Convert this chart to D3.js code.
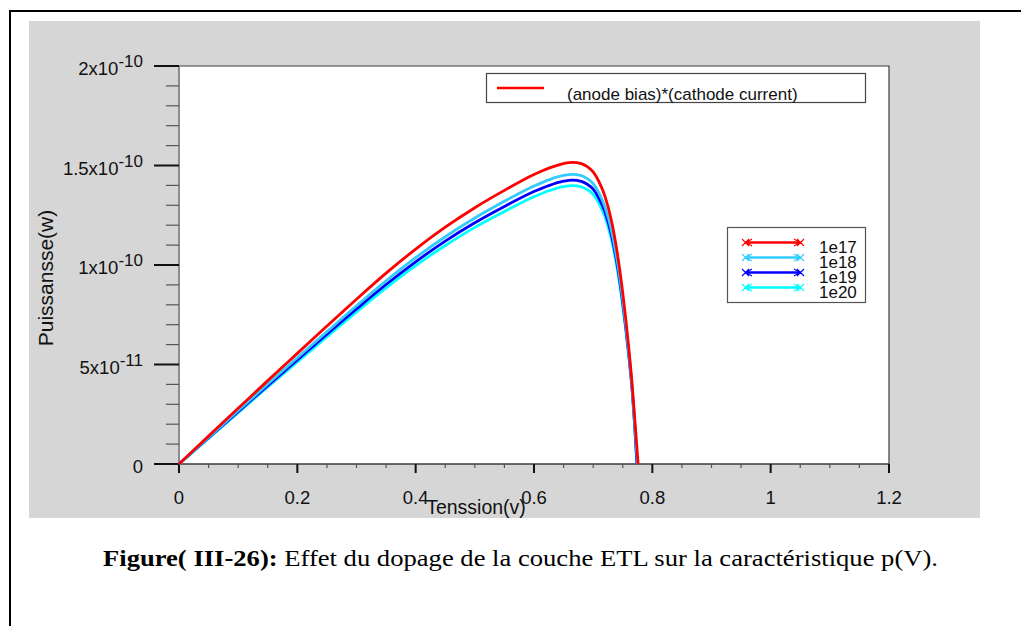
<!DOCTYPE html>
<html>
<head>
<meta charset="utf-8">
<script src="https://cdn.jsdelivr.net/npm/d3@7"></script>
<style>
  html, body { margin: 0; padding: 0; background: #ffffff; }
  svg { display: block; }
</style>
</head>
<body>
<svg id="fig" width="1021" height="626"></svg>
<script>
// Applied voltage (V) shared by all doping levels
const voltage = [0, 0.05, 0.1, 0.15, 0.2, 0.25, 0.3, 0.35, 0.4, 0.45, 0.5, 0.55, 0.6,
                 0.625, 0.65, 0.665, 0.68, 0.69, 0.70, 0.71, 0.72, 0.73, 0.74, 0.75, 0.76, 0.765, 0.77];

// Output power, in units of 1e-10 W
const p1e17 = [0, 0.140, 0.280, 0.419, 0.556, 0.693, 0.828, 0.959, 1.080, 1.190, 1.288, 1.375, 1.455,
               1.487, 1.510, 1.516, 1.509, 1.494, 1.468, 1.418, 1.345, 1.235, 1.075, 0.860, 0.590, 0.430, 0.240];
const p1e18 = [0, 0.134, 0.269, 0.402, 0.534, 0.665, 0.795, 0.921, 1.037, 1.142, 1.236, 1.320, 1.397,
               1.428, 1.450, 1.455, 1.449, 1.434, 1.409, 1.361, 1.291, 1.186, 1.032, 0.826, 0.566, 0.413, 0.210];
const p1e19 = [0, 0.132, 0.263, 0.394, 0.523, 0.652, 0.779, 0.902, 1.016, 1.120, 1.212, 1.294, 1.369,
               1.399, 1.421, 1.427, 1.420, 1.406, 1.381, 1.334, 1.266, 1.162, 1.012, 0.809, 0.555, 0.405, 0.200];
const p1e20 = [0, 0.129, 0.258, 0.387, 0.513, 0.640, 0.764, 0.885, 0.997, 1.098, 1.189, 1.269, 1.343,
               1.373, 1.394, 1.399, 1.393, 1.379, 1.355, 1.309, 1.241, 1.140, 0.992, 0.794, 0.545, 0.397, 0.190];

// Open-circuit voltage of each curve (power returns to zero)
const vocs = [0.776, 0.775, 0.774, 0.774];

const seriesNames = ["1e17", "1e18", "1e19", "1e20"];
const seriesColors = ["#ff0000", "#33ccff", "#0000ff", "#00ffff"];
const seriesPower = [p1e17, p1e18, p1e19, p1e20];

// Axis ticks
const xTicks = [0, 0.2, 0.4, 0.6, 0.8, 1, 1.2];
const xTickLabels = ["0", "0.2", "0.4", "0.6", "0.8", "1", "1.2"];
const yTicks = [0, 0.5, 1, 1.5, 2];
const yTickMantissa = ["0", "5x10", "1x10", "1.5x10", "2x10"];
const yTickExponent = ["", "-11", "-10", "-10", "-10"];

const xTitle = "Tenssion(v)";
const yTitle = "Puissansse(w)";
const topLegendLabel = "(anode bias)*(cathode current)";

const svg = d3.select("#fig");
const SANS = "'Liberation Sans', Arial, sans-serif";

// Frame around the figure block
svg.append("path")
  .attr("d", "M10,626 L10,11 L1021,11")
  .attr("fill", "none").attr("stroke", "#000").attr("stroke-width", 2);

// Grey panel of the plotting window
svg.append("rect").attr("x", 29).attr("y", 21).attr("width", 951).attr("height", 497)
  .attr("fill", "#d6d6d6");

const plot = { left: 179, right: 889, top: 66, bottom: 464 };
const x = d3.scaleLinear().domain([0, 1.2]).range([plot.left, plot.right]);
const y = d3.scaleLinear().domain([0, 2]).range([plot.bottom, plot.top]);

// White plot area
svg.append("rect").attr("x", plot.left).attr("y", plot.top)
  .attr("width", plot.right - plot.left).attr("height", plot.bottom - plot.top)
  .attr("fill", "#ffffff");

// Top and right edges of the plot area
svg.append("path")
  .attr("d", `M${plot.left},${plot.top} L${plot.right},${plot.top} L${plot.right},${plot.bottom}`)
  .attr("fill", "none").attr("stroke", "#3c3c3c").attr("stroke-width", 1.2);

// Left axis line (grey)
svg.append("line").attr("x1", plot.left).attr("x2", plot.left)
  .attr("y1", plot.top).attr("y2", plot.bottom)
  .attr("stroke", "#8c8c8c").attr("stroke-width", 2);

// Bottom axis line
svg.append("line").attr("x1", plot.left).attr("x2", plot.right)
  .attr("y1", plot.bottom).attr("y2", plot.bottom)
  .attr("stroke", "#3c3c3c").attr("stroke-width", 1.5);

// Y minor ticks
const yMinor = d3.range(0, 2.0001, 0.1).filter(v => Math.abs(v * 2 - Math.round(v * 2)) > 1e-6);
svg.append("g").selectAll("line").data(yMinor).join("line")
  .attr("x1", plot.left - 13).attr("x2", plot.left)
  .attr("y1", d => y(d)).attr("y2", d => y(d))
  .attr("stroke", "#555").attr("stroke-width", 1.2);

// Y major ticks
svg.append("g").selectAll("line").data(yTicks).join("line")
  .attr("x1", plot.left - 25).attr("x2", plot.left)
  .attr("y1", d => y(d)).attr("y2", d => y(d))
  .attr("stroke", "#111").attr("stroke-width", 2);

// Y tick labels with superscript exponent
const yl = svg.append("g").selectAll("text").data(yTicks).join("text")
  .attr("x", 143).attr("y", d => y(d) + 9)
  .attr("text-anchor", "end")
  .attr("font-family", SANS).attr("font-size", 18.5).attr("fill", "#111");
yl.each(function (d, i) {
  const t = d3.select(this);
  t.append("tspan").text(yTickMantissa[i]);
  if (yTickExponent[i]) {
    t.append("tspan").attr("dy", -8).attr("font-size", 17).text(yTickExponent[i]);
  }
});

// X minor ticks
const xMinor = d3.range(0, 1.2001, 0.05).filter(v => Math.abs(v * 5 - Math.round(v * 5)) > 1e-6);
svg.append("g").selectAll("line").data(xMinor).join("line")
  .attr("x1", d => x(d)).attr("x2", d => x(d))
  .attr("y1", plot.bottom).attr("y2", plot.bottom + 4)
  .attr("stroke", "#555").attr("stroke-width", 1.2);

// X major ticks
svg.append("g").selectAll("line").data(xTicks).join("line")
  .attr("x1", d => x(d)).attr("x2", d => x(d))
  .attr("y1", plot.bottom).attr("y2", plot.bottom + 9)
  .attr("stroke", "#111").attr("stroke-width", 2);

// X tick labels
svg.append("g").selectAll("text").data(xTicks).join("text")
  .attr("x", d => x(d)).attr("y", 504)
  .attr("text-anchor", "middle")
  .attr("font-family", SANS).attr("font-size", 18.5).attr("fill", "#111")
  .text((d, i) => xTickLabels[i]);

// Axis titles
svg.append("text").attr("x", 476).attr("y", 514)
  .attr("text-anchor", "middle").attr("font-family", SANS).attr("font-size", 19.5)
  .attr("fill", "#111").text(xTitle);
svg.append("text")
  .attr("transform", "translate(53,278) rotate(-90)")
  .attr("text-anchor", "middle").attr("font-family", SANS).attr("font-size", 21)
  .attr("fill", "#111").text(yTitle);

// P(V) curves
const line = d3.line().x(d => x(d[0])).y(d => y(d[1])).curve(d3.curveMonotoneX);
const curves = seriesPower.map((p, i) => voltage.map((v, j) => [v, p[j]]).concat([[vocs[i], 0]]));
// draw the lowest curve first, the 1e17 curve on top
svg.append("g").selectAll("path").data(curves.map((c, i) => ({ c, i })).reverse()).join("path")
  .attr("d", d => line(d.c))
  .attr("fill", "none")
  .attr("stroke", d => seriesColors[d.i])
  .attr("stroke-width", 2.8)
  .attr("stroke-linejoin", "round");

// Upper legend box
svg.append("rect").attr("x", 486.5).attr("y", 73.5).attr("width", 379).attr("height", 29)
  .attr("fill", "#fff").attr("stroke", "#444").attr("stroke-width", 1.2);
svg.append("line").attr("x1", 497).attr("x2", 544).attr("y1", 88).attr("y2", 88)
  .attr("stroke", "#ff0000").attr("stroke-width", 2.4);
svg.append("text").attr("x", 567).attr("y", 100)
  .attr("font-family", SANS).attr("font-size", 17).attr("fill", "#111")
  .text(topLegendLabel);

// Doping legend box
svg.append("rect").attr("x", 727.5).attr("y", 227.5).attr("width", 138).attr("height", 75)
  .attr("fill", "#fff").attr("stroke", "#555").attr("stroke-width", 1.2);
const lg = svg.append("g").selectAll("g").data(seriesNames).join("g")
  .attr("transform", (d, i) => `translate(0,${242.5 + i * 15})`);
lg.append("line").attr("x1", 747).attr("x2", 799).attr("y1", 0).attr("y2", 0)
  .attr("stroke", (d, i) => seriesColors[i]).attr("stroke-width", 2.6);
// arrow heads and cross markers at both ends
lg.append("path")
  .attr("d", "M752,-3.5 L746,0 L752,3.5 M794,-3.5 L800,0 L794,3.5 M742,-3.5 L749,3.5 M742,3.5 L749,-3.5 M797,-3.5 L804,3.5 M797,3.5 L804,-3.5")
  .attr("fill", "none").attr("stroke", (d, i) => seriesColors[i]).attr("stroke-width", 1.1);
lg.append("text").attr("x", 819).attr("y", 10.5)
  .attr("font-family", SANS).attr("font-size", 17).attr("fill", "#111")
  .text(d => d);

// Caption
const cap = svg.append("text").attr("x", 103).attr("y", 566)
  .attr("font-family", "'Liberation Serif', 'Times New Roman', serif")
  .attr("font-size", 23.5).attr("fill", "#000")
  .attr("textLength", 835).attr("lengthAdjust", "spacingAndGlyphs");
cap.append("tspan").attr("font-weight", "bold").text("Figure( III-26):");
cap.append("tspan").text(" Effet du dopage de la couche ETL sur la caractéristique p(V).");
</script>
</body>
</html>
